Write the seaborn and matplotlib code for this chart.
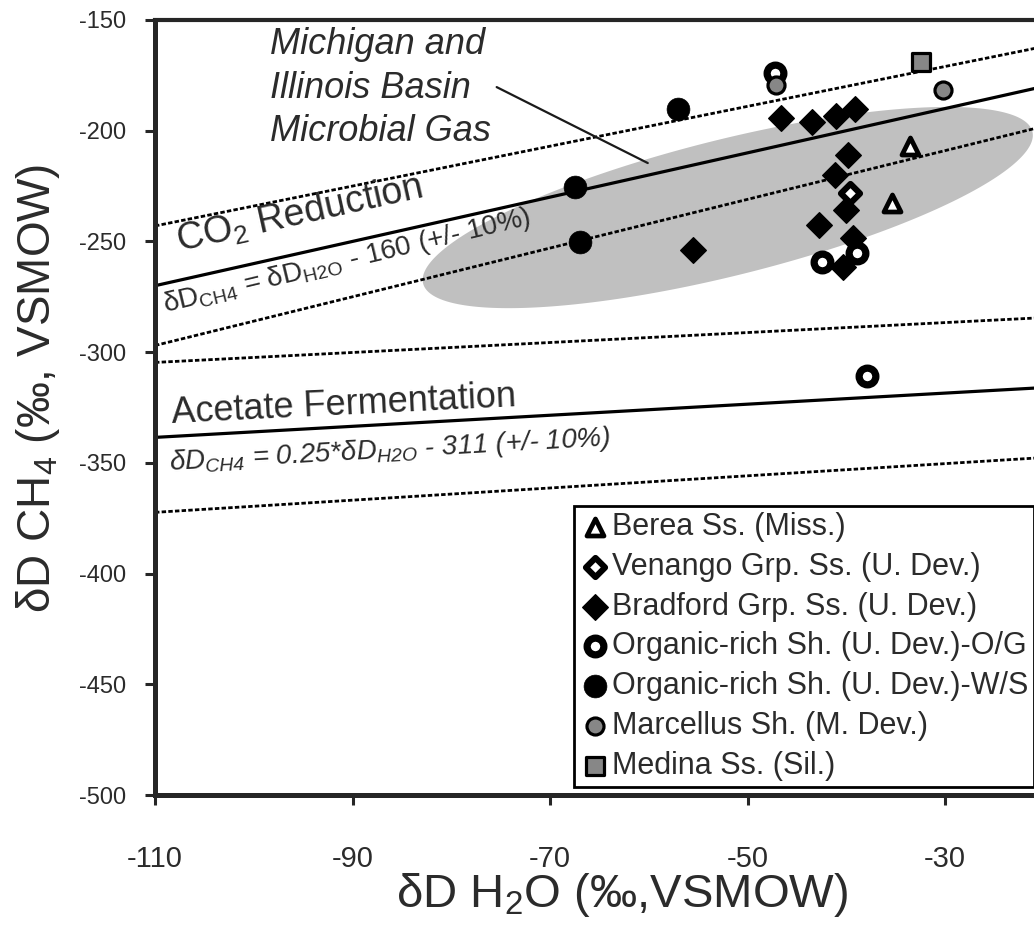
import numpy as np
import matplotlib
matplotlib.use("Agg")
import matplotlib.pyplot as plt
import seaborn as sns

# ---- measured isotope data (dD H2O vs dD CH4, permil VSMOW) ----
berea_h2o = [-33.5, -35.4]
berea_ch4 = [-206.9, -232.8]

venango_h2o = [-39.6]
venango_ch4 = [-228.0]

bradford_h2o = [-55.5, -46.6, -43.5, -41.0, -39.1, -39.8, -41.1, -40.0, -42.8, -39.3, -40.3]
bradford_ch4 = [-254.0, -194.1, -195.9, -193.4, -190.3, -211.0, -220.0, -235.8, -242.6, -248.6, -261.4]

og_h2o = [-47.2, -38.9, -42.5, -37.9]
og_ch4 = [-174.1, -255.1, -259.2, -310.8]

ws_h2o = [-57.0, -67.5, -67.0]
ws_ch4 = [-190.2, -225.6, -250.4]

marcellus_h2o = [-47.1, -30.2]
marcellus_ch4 = [-179.4, -181.6]

medina_h2o = [-32.4]
medina_ch4 = [-168.8]

# ---- methanogenesis pathway relations: dD_CH4 = slope * dD_H2O + intercept ----
co2_slope, co2_intercept = 1.0, -160.0
acetate_slope, acetate_intercept = 0.25, -311.0
band_fraction = 0.10

# Michigan / Illinois basin microbial gas field (ellipse: centre + conjugate half-axes)
basin_center = (-52.0, -234.7)
basin_axis_u = (30.85, 34.3)
basin_axis_v = (-1.67, 29.8)

x_ticks = [-110, -90, -70, -50, -30]
y_ticks = [-500, -450, -400, -350, -300, -250, -200, -150]

# ---------------------------------------------------------------------------
sns.set_style("ticks")
plt.rcParams["axes.unicode_minus"] = False
plt.rcParams["font.family"] = ["Liberation Sans", "DejaVu Sans"]
text_col = "#2b2b2b"

fig = plt.figure(figsize=(10.34, 9.25), dpi=100)
ax = fig.add_axes([155 / 1034, 130 / 925, 888.75 / 1034, 775 / 925])
ax.set_xlim(-110, -20)
ax.set_ylim(-500, -150)

# basin field
t = np.linspace(0, 2 * np.pi, 400)
ex = basin_center[0] + basin_axis_u[0] * np.cos(t) + basin_axis_v[0] * np.sin(t)
ey = basin_center[1] + basin_axis_u[1] * np.cos(t) + basin_axis_v[1] * np.sin(t)
ax.fill(ex, ey, color="#c0c0c0", lw=0, zorder=1)

# pathway lines with +/- 10 % envelopes
xs = np.array(ax.get_xlim())
dash = (0, (1.6, 0.8))
for slope, icpt in [(co2_slope, co2_intercept), (acetate_slope, acetate_intercept)]:
    yc = slope * xs + icpt
    ax.plot(xs, yc, color="black", lw=2.3, zorder=2, solid_capstyle="butt")
    ax.plot(xs, yc * (1 - band_fraction), color="black", lw=2.0, ls=dash, zorder=2)
    ax.plot(xs, yc * (1 + band_fraction), color="black", lw=2.0, ls=dash, zorder=2)

# sample groups
common = dict(ax=ax, zorder=5, legend=True)
sns.scatterplot(x=berea_h2o, y=berea_ch4, marker="^", s=150, color="white",
                edgecolor="black", linewidth=3.4, label="Berea Ss. (Miss.)", **common)
sns.scatterplot(x=bradford_h2o, y=bradford_ch4, marker="D", s=170, color="black",
                edgecolor="black", linewidth=1.0, label="Bradford Grp. Ss. (U. Dev.)", **common)
sns.scatterplot(x=venango_h2o, y=venango_ch4, marker="D", s=95, color="white",
                edgecolor="black", linewidth=4.4, label="Venango Grp. Ss. (U. Dev.)", **common)
sns.scatterplot(x=og_h2o, y=og_ch4, marker="o", s=145, color="white",
                edgecolor="black", linewidth=5.2, label="Organic-rich Sh. (U. Dev.)-O/G", **common)
sns.scatterplot(x=ws_h2o, y=ws_ch4, marker="o", s=270, color="black",
                edgecolor="black", linewidth=0.5, label="Organic-rich Sh. (U. Dev.)-W/S", **common)
sns.scatterplot(x=marcellus_h2o, y=marcellus_ch4, marker="o", s=150, color="#878787",
                edgecolor="black", linewidth=2.3, label="Marcellus Sh. (M. Dev.)", **common)
sns.scatterplot(x=medina_h2o, y=medina_ch4, marker="s", s=160, color="#878787",
                edgecolor="black", linewidth=2.3, label="Medina Ss. (Sil.)", **common)

# legend in fixed order
order = ["Berea Ss. (Miss.)", "Venango Grp. Ss. (U. Dev.)", "Bradford Grp. Ss. (U. Dev.)",
         "Organic-rich Sh. (U. Dev.)-O/G", "Organic-rich Sh. (U. Dev.)-W/S",
         "Marcellus Sh. (M. Dev.)", "Medina Ss. (Sil.)"]
handles, labels = ax.get_legend_handles_labels()
lookup = dict(zip(labels, handles))
leg = ax.legend([lookup[k] for k in order], order, loc="upper left",
                bbox_to_anchor=(574 / 1034, 1 - 506 / 925), bbox_transform=fig.transFigure,
                borderaxespad=0, frameon=True, fancybox=False, framealpha=1,
                edgecolor="black", fontsize=22, labelspacing=0.32, borderpad=0.2,
                handlelength=0.95, handletextpad=0.08, labelcolor=text_col)
leg.get_frame().set_linewidth(2.0)
leg.set_zorder(10)

# annotations
ax.text(-98.4, -153.0, "Michigan and\nIllinois Basin\nMicrobial Gas", style="italic",
        fontsize=26, color=text_col, ha="left", va="top", linespacing=1.33, zorder=6)
ax.annotate("", xy=(-60.1, -214.6), xytext=(-75.4, -180.3),
            arrowprops=dict(arrowstyle="-", lw=1.6, color="#1a1a1a", shrinkA=0, shrinkB=0),
            zorder=6)
ax.text(-107.5, -254.8, r"CO$\mathregular{_2}$ Reduction", fontsize=27, color=text_col,
        rotation=12.5, rotation_mode="anchor", ha="left", va="baseline", zorder=6)
ax.text(-109.0, -281.9, r"δD$\mathregular{_{CH4}}$ = δD$\mathregular{_{H2O}}$ - 160 (+/- 10%)",
        fontsize=20, color=text_col, rotation=13.5, rotation_mode="anchor",
        ha="left", va="baseline", zorder=6)
ax.text(-108.3, -332.0, "Acetate Fermentation", fontsize=26, color=text_col,
        rotation=2.8, rotation_mode="anchor", ha="left", va="baseline", zorder=6)
ax.text(-108.5, -353.3, r"δD$\mathregular{_{CH4}}$ = 0.25*δD$\mathregular{_{H2O}}$ - 311 (+/- 10%)",
        fontsize=20, style="italic", color=text_col, rotation=3.2, rotation_mode="anchor",
        ha="left", va="baseline", zorder=6)

# axes styling
ax.set_xticks(x_ticks)
ax.set_yticks(y_ticks)
ax.set_xticklabels([str(v) for v in x_ticks], fontsize=21, color=text_col)
ax.set_yticklabels([str(v) for v in y_ticks], fontsize=17, color=text_col)
ax.tick_params(axis="x", direction="out", length=7, width=2.2, pad=29)
ax.tick_params(axis="y", direction="out", length=7, width=2.2, pad=14)
for side in ["left", "bottom"]:
    ax.spines[side].set_linewidth(3.6)
ax.spines["top"].set_linewidth(3.0)
ax.spines["right"].set_visible(False)

ax.set_xlabel(r"δD H$\mathregular{_2}$O (‰,VSMOW)", fontsize=34, color=text_col)
ax.set_ylabel(r"δD CH$\mathregular{_4}$ (‰, VSMOW)", fontsize=33, color=text_col)
ax.xaxis.set_label_coords(0.5255, -0.0975)
ax.yaxis.set_label_coords(-0.1046, 0.525)

fig.savefig("out.png", dpi=100, facecolor="white")
